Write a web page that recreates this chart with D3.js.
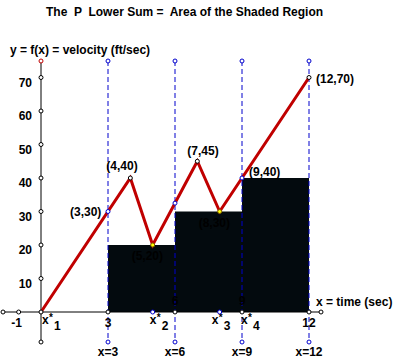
<!DOCTYPE html>
<html>
<head>
<meta charset="utf-8">
<script src="https://cdn.jsdelivr.net/npm/d3@7"></script>
<style>
  body { margin: 0; background: #fff; }
  text { font-family: "Liberation Sans", Arial, sans-serif; font-weight: bold; fill: #000; }
</style>
</head>
<body>
<div id="chart"></div>
<script>
// vertices of the velocity function
const fxVals = [0, 4, 5, 7, 8, 12];
const fyVals = [0, 40, 20, 45, 30, 70];

// partition and lower-sum rectangles
const partition = [3, 6, 9, 12];
const rectStarts = [3, 6, 9];
const rectEnds = [6, 9, 12];
const rectHeights = [20, 30, 40];

// sample points x*_i
const starX = [0, 5, 8, 9];
const starLabels = ["1", "2", "3", "4"];

// axis ticks
const yTicks = [10, 20, 30, 40, 50, 60, 70];
const xTickVals = [-1, 3, 6, 9, 12];

// labelled points
const ptLabels = ["(3,30)", "(4,40)", "(5,20)", "(7,45)", "(8,30)", "(9,40)", "(12,70)"];
const ptX = [3, 4, 5, 7, 8, 9, 12];
const ptY = [30, 40, 20, 45, 30, 40, 70];

const width = 396, height = 363;

const svg = d3.select("#chart").append("svg")
    .attr("width", width)
    .attr("height", height);

const x = d3.scaleLinear().domain([0, 12]).range([41, 309]);
const y = d3.scaleLinear().domain([0, 70]).range([312, 77.5]);

const yTop = 61, yBottom = 342;
const blue = "#0000cc", red = "#c00000";

// title
svg.append("text")
    .attr("x", 46).attr("y", 16)
    .style("font-size", "12px")
    .attr("xml:space", "preserve")
    .text("The  P  Lower Sum =  Area of the Shaded Region");

svg.append("text")
    .attr("x", 10).attr("y", 54)
    .style("font-size", "12px")
    .text("y = f(x) = velocity (ft/sec)");

// shaded rectangles
svg.selectAll("rect.bar")
    .data(rectStarts)
    .enter().append("rect")
    .attr("class", "bar")
    .attr("x", (d, i) => x(d))
    .attr("width", (d, i) => x(rectEnds[i]) - x(d))
    .attr("y", (d, i) => y(rectHeights[i]))
    .attr("height", (d, i) => y(0) - y(rectHeights[i]))
    .attr("fill", "#030a0e");

// axes lines
svg.append("line")
    .attr("x1", 3).attr("x2", 321)
    .attr("y1", y(0)).attr("y2", y(0))
    .attr("stroke", "#000");
svg.append("line")
    .attr("x1", x(0)).attr("x2", x(0))
    .attr("y1", yTop).attr("y2", yBottom)
    .attr("stroke", "#000");

// dashed partition lines
svg.selectAll("line.part")
    .data(partition)
    .enter().append("line")
    .attr("class", "part")
    .attr("x1", d => x(d)).attr("x2", d => x(d))
    .attr("y1", yTop).attr("y2", yBottom)
    .attr("stroke", blue)
    .attr("stroke-dasharray", "5,3");

// y tick labels (top-aligned to the tick)
svg.selectAll("text.ytick")
    .data(yTicks)
    .enter().append("text")
    .attr("class", "ytick")
    .attr("x", 32)
    .attr("y", d => y(d) + 9)
    .attr("text-anchor", "end")
    .style("font-size", "12px")
    .text(d => d);

// x tick labels
svg.selectAll("text.xtick")
    .data(xTickVals)
    .enter().append("text")
    .attr("class", "xtick")
    .attr("x", d => d === -1 ? x(d) - 2 : x(d))
    .attr("y", d => (d === 6 || d === 9) ? y(0) - 7 : y(0) + 15)
    .attr("text-anchor", "middle")
    .style("font-size", "12px")
    .text(d => d);

// partition labels under axis
svg.selectAll("text.plab")
    .data(partition)
    .enter().append("text")
    .attr("class", "plab")
    .attr("x", d => x(d))
    .attr("y", 356)
    .attr("text-anchor", "middle")
    .style("font-size", "12px")
    .text(d => "x=" + d);

// x* labels
const starDx = [1, -3, -8, -1];
const starG = svg.selectAll("g.star")
    .data(starX)
    .enter().append("g")
    .attr("class", "star")
    .attr("transform", (d, i) => `translate(${x(d) + starDx[i]}, ${y(0) + 12})`);
starG.append("text")
    .style("font-size", "12px")
    .text("x");
starG.append("text")
    .attr("x", 7).attr("y", -3)
    .style("font-size", "10px")
    .text("*");
starG.append("text")
    .attr("x", 12).attr("y", 6)
    .style("font-size", "12px")
    .text((d, i) => starLabels[i]);

svg.append("text")
    .attr("x", 316).attr("y", 306)
    .style("font-size", "12px")
    .text("x = time (sec)");

// function graph
const line = d3.line().x(d => x(d[0])).y(d => y(d[1]));
svg.append("path")
    .datum(fxVals.map((d, i) => [d, fyVals[i]]))
    .attr("d", line)
    .attr("fill", "none")
    .attr("stroke", red)
    .attr("stroke-width", 3)
    .attr("stroke-linejoin", "miter");

// point labels
const lblDx = [-38, -24, -21, -10, -21, 7, 7];
const lblDy = [4, -8, 15, -6, 15, -2, 5];
svg.selectAll("text.pt")
    .data(ptLabels)
    .enter().append("text")
    .attr("class", "pt")
    .attr("x", (d, i) => x(ptX[i]) + lblDx[i])
    .attr("y", (d, i) => y(ptY[i]) + lblDy[i])
    .style("font-size", "12px")
    .text(d => d);

// small circles
function dot(cx, cy, stroke, fill) {
    svg.append("circle")
        .attr("cx", cx).attr("cy", cy).attr("r", 2)
        .attr("fill", fill || "#fff")
        .attr("stroke", stroke)
        .attr("stroke-width", 1);
}

yTicks.forEach(d => dot(x(0), y(d), "#000"));
dot(x(0), yTop, red);
dot(x(0), yBottom, "#000");
dot(3, y(0), "#000");
dot(321, y(0), "#000");
dot(x(-1), y(0), "#000");
dot(x(0), y(0), "#000");
partition.forEach(d => {
    dot(x(d), yTop, blue);
    dot(x(d), yBottom, blue);
    dot(x(d), y(0), "#000");
});
[5, 8].forEach(d => dot(x(d), y(0), blue));
// where dashed lines cross the graph
dot(x(3), y(30), blue);
dot(x(6), y(32.5), blue);
dot(x(9), y(40), blue);
// vertices
dot(x(4), y(40), "#000");
dot(x(7), y(45), "#000");
dot(x(12), y(70), "#000");
// minimum points
dot(x(5), y(20), "#806000", "#ffff00");
dot(x(8), y(30), "#806000", "#ffff00");
</script>
</body>
</html>
